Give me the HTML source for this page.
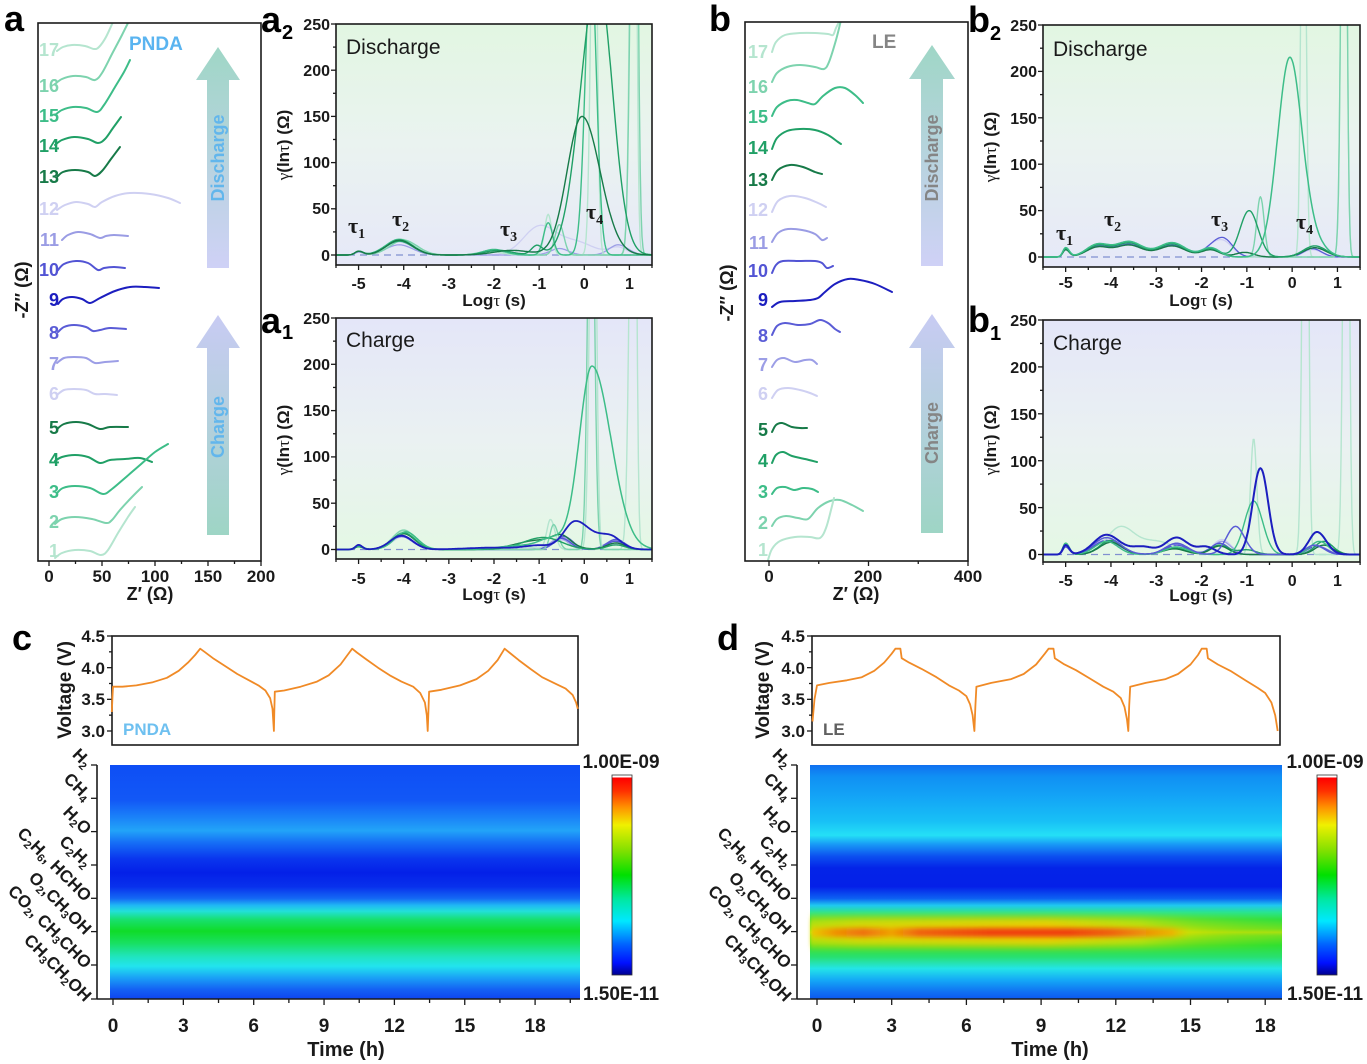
<!DOCTYPE html>
<html><head><meta charset="utf-8">
<style>
html,body{margin:0;padding:0;background:#fff;}
svg{display:block;}
text{font-family:"Liberation Sans",Arial,sans-serif;}
.b{font-weight:bold;}
</style></head><body>
<svg id="s" width="1367" height="1064" viewBox="0 0 1367 1064" xmlns="http://www.w3.org/2000/svg">
<defs>
 <linearGradient id="bgGB" x1="0" y1="0" x2="0" y2="1"><stop offset="0" stop-color="#e2f6e2"/><stop offset="0.5" stop-color="#eaf3f0"/><stop offset="1" stop-color="#e6e8f8"/></linearGradient>
 <linearGradient id="bgBG" x1="0" y1="0" x2="0" y2="1"><stop offset="0" stop-color="#e4e6f8"/><stop offset="0.5" stop-color="#eaf1f2"/><stop offset="1" stop-color="#e4f8e4"/></linearGradient>
 <linearGradient id="arDis" x1="0" y1="0" x2="0" y2="1"><stop offset="0" stop-color="#9fd6c6"/><stop offset="1" stop-color="#cfd1f6"/></linearGradient>
 <linearGradient id="arChg" x1="0" y1="0" x2="0" y2="1"><stop offset="0" stop-color="#c8cbf3"/><stop offset="1" stop-color="#9ed5c5"/></linearGradient>
 <linearGradient id="hmC" x1="0" y1="0" x2="0" y2="1">
  <stop offset="0" stop-color="#0e4ef5"/><stop offset="0.15" stop-color="#1258f6"/><stop offset="0.22" stop-color="#1a80f8"/>
  <stop offset="0.28" stop-color="#22a4f8"/><stop offset="0.33" stop-color="#1670f6"/><stop offset="0.40" stop-color="#0a36ee"/>
  <stop offset="0.46" stop-color="#0420e8"/><stop offset="0.52" stop-color="#0830ec"/><stop offset="0.57" stop-color="#1468f4"/>
  <stop offset="0.60" stop-color="#20b8f4"/><stop offset="0.625" stop-color="#22e0d8"/><stop offset="0.66" stop-color="#18e070"/>
  <stop offset="0.71" stop-color="#10dc28"/><stop offset="0.76" stop-color="#18e060"/><stop offset="0.82" stop-color="#20e4c0"/>
  <stop offset="0.86" stop-color="#22e4ee"/><stop offset="0.91" stop-color="#1aa0f6"/><stop offset="0.96" stop-color="#1460f4"/>
  <stop offset="1" stop-color="#0e44f0"/>
 </linearGradient>
 <linearGradient id="hmD" x1="0" y1="0" x2="0" y2="1">
  <stop offset="0" stop-color="#1070f0"/><stop offset="0.05" stop-color="#1090f4"/><stop offset="0.15" stop-color="#14a8f6"/>
  <stop offset="0.24" stop-color="#18c0f6"/><stop offset="0.30" stop-color="#24e0f6"/><stop offset="0.34" stop-color="#1898f6"/>
  <stop offset="0.39" stop-color="#0c50f0"/><stop offset="0.44" stop-color="#0424e8"/><stop offset="0.52" stop-color="#0420e8"/>
  <stop offset="0.57" stop-color="#0c60f2"/><stop offset="0.60" stop-color="#20c8f0"/><stop offset="0.63" stop-color="#28e490"/>
  <stop offset="0.66" stop-color="#30e040"/><stop offset="0.70" stop-color="#70e020"/><stop offset="0.715" stop-color="#a8e010"/>
  <stop offset="0.73" stop-color="#70e020"/><stop offset="0.77" stop-color="#30e030"/><stop offset="0.82" stop-color="#28e070"/>
  <stop offset="0.87" stop-color="#24e4e8"/><stop offset="0.92" stop-color="#14a8f6"/><stop offset="0.97" stop-color="#1070f2"/>
  <stop offset="1" stop-color="#0c58f0"/>
 </linearGradient>
 <linearGradient id="dBand" x1="0" y1="0" x2="1" y2="0">
  <stop offset="0" stop-color="#e0e000" stop-opacity="0.7"/><stop offset="0.1" stop-color="#e8d800" stop-opacity="0.85"/>
  <stop offset="0.5" stop-color="#f0d000" stop-opacity="0.95"/><stop offset="0.7" stop-color="#e8e000" stop-opacity="0.7"/>
  <stop offset="0.82" stop-color="#d0e000" stop-opacity="0.35"/><stop offset="0.92" stop-color="#c0e000" stop-opacity="0.15"/>
  <stop offset="1" stop-color="#c0e000" stop-opacity="0"/>
 </linearGradient>
 <linearGradient id="dCore" x1="0" y1="0" x2="1" y2="0">
  <stop offset="0" stop-color="#f0c000" stop-opacity="0.8"/><stop offset="0.05" stop-color="#f09000"/>
  <stop offset="0.11" stop-color="#f07010"/><stop offset="0.17" stop-color="#f0a000"/><stop offset="0.23" stop-color="#f06010"/>
  <stop offset="0.38" stop-color="#f04010"/><stop offset="0.55" stop-color="#f04010"/><stop offset="0.64" stop-color="#f06010"/>
  <stop offset="0.77" stop-color="#f0b000" stop-opacity="0.9"/><stop offset="0.81" stop-color="#d8e000" stop-opacity="0.4"/>
  <stop offset="0.9" stop-color="#b0e010" stop-opacity="0.1"/><stop offset="1" stop-color="#a0e010" stop-opacity="0"/>
 </linearGradient>
 <filter id="blurY" x="-0.05" y="-2" width="1.1" height="5"><feGaussianBlur stdDeviation="1.5 4"/></filter>
 <filter id="blurY2" x="-0.05" y="-2" width="1.1" height="5"><feGaussianBlur stdDeviation="1 2.5"/></filter>
 <linearGradient id="jet" x1="0" y1="1" x2="0" y2="0">
  <stop offset="0" stop-color="#000090"/><stop offset="0.06" stop-color="#0010ff"/><stop offset="0.15" stop-color="#0060ff"/>
  <stop offset="0.27" stop-color="#00e8ff"/><stop offset="0.38" stop-color="#00e8a0"/><stop offset="0.5" stop-color="#00e000"/>
  <stop offset="0.62" stop-color="#80e000"/><stop offset="0.75" stop-color="#f0f000"/><stop offset="0.84" stop-color="#ff9000"/>
  <stop offset="0.92" stop-color="#ff3000"/><stop offset="0.985" stop-color="#ff0000"/><stop offset="0.99" stop-color="#ffffff"/>
  <stop offset="1" stop-color="#ffffff"/>
 </linearGradient>
 <clipPath id="cA2"><rect x="336" y="24" width="316" height="241"/></clipPath>
 <clipPath id="cA1"><rect x="336" y="318" width="316" height="241"/></clipPath>
 <clipPath id="cB2"><rect x="1043" y="25" width="317" height="242"/></clipPath>
 <clipPath id="cB1"><rect x="1043" y="320" width="317" height="242"/></clipPath>
 <clipPath id="cNa"><rect x="38" y="23" width="223" height="538"/></clipPath>
 <clipPath id="cNb"><rect x="745" y="22" width="223" height="539"/></clipPath>
</defs>
<rect x="0" y="0" width="1367" height="1064" fill="#fff"/>

<!-- ================= Panel a (Nyquist PNDA) ================= -->
<text x="4" y="31" class="b" font-size="36">a</text>
<polygon points="207,268 207,80 196,80 218,47 240,80 229,80 229,268" fill="url(#arDis)"/>
<polygon points="207,535 207,348 196,348 218,315 240,348 229,348 229,535" fill="url(#arChg)"/>
<text transform="translate(224,158) rotate(-90)" text-anchor="middle" class="b" font-size="18" fill="#62b6ec">Discharge</text>
<text transform="translate(224,427) rotate(-90)" text-anchor="middle" class="b" font-size="18" fill="#62b6ec">Charge</text>
<text x="129" y="50" class="b" font-size="19" fill="#5ab4f0">PNDA</text>
<g id="nyqA" clip-path="url(#cNa)"></g>
<rect x="38" y="23" width="223" height="538" fill="none" stroke="#1a1a1a" stroke-width="1.6"/>
<g class="b" font-size="18" text-anchor="end">
 <text x="59" y="56" fill="#b5e5cf">17</text>
 <text x="59" y="92" fill="#7dd3ae">16</text>
 <text x="59" y="122" fill="#3dbd88">15</text>
 <text x="59" y="152" fill="#20a066">14</text>
 <text x="59" y="183" fill="#177a48">13</text>
 <text x="59" y="215" fill="#cfd0f2">12</text>
 <text x="59" y="246" fill="#9a9ce4">11</text>
 <text x="59" y="276" fill="#5254d4">10</text>
 <text x="59" y="306" fill="#1c1ebf">9</text>
 <text x="59" y="339" fill="#5a5cd6">8</text>
 <text x="59" y="370" fill="#9c9ee6">7</text>
 <text x="59" y="400" fill="#cfd0f2">6</text>
 <text x="59" y="434" fill="#177a48">5</text>
 <text x="59" y="466" fill="#20a066">4</text>
 <text x="59" y="498" fill="#3dbd88">3</text>
 <text x="59" y="528" fill="#7dd3ae">2</text>
 <text x="59" y="557" fill="#b5e5cf">1</text>
</g>
<g class="b" font-size="17" text-anchor="middle" fill="#1a1a1a">
 <text x="49" y="582">0</text><text x="102" y="582">50</text><text x="155" y="582">100</text><text x="208" y="582">150</text><text x="261" y="582">200</text>
 <text x="150" y="600" font-size="18">Z′ (Ω)</text>
 <text transform="translate(28,290) rotate(-90)" font-size="18">-Z″ (Ω)</text>
</g>

<!-- ================= Panel b (Nyquist LE) ================= -->
<text x="709" y="31" class="b" font-size="36">b</text>
<polygon points="921,266 921,79 909,79 932,45 955,79 943,79 943,266" fill="url(#arDis)"/>
<polygon points="921,533 921,348 909,348 932,314 955,348 943,348 943,533" fill="url(#arChg)"/>
<text transform="translate(938,158) rotate(-90)" text-anchor="middle" class="b" font-size="18" fill="#858585">Discharge</text>
<text transform="translate(938,433) rotate(-90)" text-anchor="middle" class="b" font-size="18" fill="#858585">Charge</text>
<text x="872" y="48" class="b" font-size="19" fill="#858585">LE</text>
<g id="nyqB" clip-path="url(#cNb)"></g>
<rect x="745" y="22" width="223" height="539" fill="none" stroke="#1a1a1a" stroke-width="1.6"/>
<g class="b" font-size="18" text-anchor="end">
 <text x="768" y="58" fill="#b5e5cf">17</text>
 <text x="768" y="93" fill="#7dd3ae">16</text>
 <text x="768" y="123" fill="#3dbd88">15</text>
 <text x="768" y="154" fill="#20a066">14</text>
 <text x="768" y="186" fill="#177a48">13</text>
 <text x="768" y="216" fill="#cfd0f2">12</text>
 <text x="768" y="249" fill="#9a9ce4">11</text>
 <text x="768" y="277" fill="#5254d4">10</text>
 <text x="768" y="306" fill="#1c1ebf">9</text>
 <text x="768" y="342" fill="#5a5cd6">8</text>
 <text x="768" y="371" fill="#9c9ee6">7</text>
 <text x="768" y="400" fill="#cfd0f2">6</text>
 <text x="768" y="436" fill="#177a48">5</text>
 <text x="768" y="467" fill="#20a066">4</text>
 <text x="768" y="498" fill="#3dbd88">3</text>
 <text x="768" y="529" fill="#7dd3ae">2</text>
 <text x="768" y="556" fill="#b5e5cf">1</text>
</g>
<g class="b" font-size="17" text-anchor="middle" fill="#1a1a1a">
 <text x="769" y="582">0</text><text x="868" y="582">200</text><text x="968" y="582">400</text>
 <text x="856" y="600" font-size="18">Z′ (Ω)</text>
 <text transform="translate(733,293) rotate(-90)" font-size="18">-Z″ (Ω)</text>
</g>

<!-- ================= DRT panels ================= -->
<rect x="336" y="24" width="316" height="241" fill="url(#bgGB)"/>
<rect x="336" y="318" width="316" height="241" fill="url(#bgBG)"/>
<rect x="1043" y="25" width="317" height="242" fill="url(#bgGB)"/>
<rect x="1043" y="320" width="317" height="242" fill="url(#bgBG)"/>
<g stroke="#8090d0" stroke-width="1.2" stroke-dasharray="7,5">
 <line x1="336" y1="255" x2="652" y2="255"/><line x1="336" y1="549.5" x2="652" y2="549.5"/>
 <line x1="1043" y1="257" x2="1360" y2="257"/><line x1="1043" y1="554.5" x2="1360" y2="554.5"/>
</g>
<g id="dA2" clip-path="url(#cA2)"></g>
<g id="dA1" clip-path="url(#cA1)"></g>
<g id="dB2" clip-path="url(#cB2)"></g>
<g id="dB1" clip-path="url(#cB1)"></g>
<g fill="none" stroke="#1a1a1a" stroke-width="1.6">
 <rect x="336" y="24" width="316" height="241"/><rect x="336" y="318" width="316" height="241"/>
 <rect x="1043" y="25" width="317" height="242"/><rect x="1043" y="320" width="317" height="242"/>
</g>
<g id="ticks"></g>

<!-- a2 -->
<text x="261" y="32" class="b" font-size="36">a</text><text x="282" y="39" class="b" font-size="20">2</text>
<text x="346" y="54" font-size="21" fill="#1a1a1a">Discharge</text>
<g class="b" font-size="16" text-anchor="end" fill="#1a1a1a">
 <text x="330" y="30">250</text><text x="330" y="76">200</text><text x="330" y="122">150</text><text x="330" y="168">100</text><text x="330" y="214">50</text><text x="330" y="261">0</text>
</g>
<g class="b" font-size="16" text-anchor="middle" fill="#1a1a1a">
 <text x="358.6" y="289">-5</text><text x="403.7" y="289">-4</text><text x="448.9" y="289">-3</text><text x="494" y="289">-2</text><text x="539.2" y="289">-1</text><text x="584.3" y="289">0</text><text x="629.4" y="289">1</text>
 <text x="494" y="306" font-size="17">Log<tspan font-weight="normal" font-family="Liberation Serif">τ</tspan> (s)</text>
 <text transform="translate(289,145) rotate(-90)" font-size="17"><tspan font-weight="normal" font-family="Liberation Serif">γ</tspan>(ln<tspan font-weight="normal" font-family="Liberation Serif">τ</tspan>) (Ω)</text>
</g>
<g class="b" fill="#1a1a1a">
 <text x="348" y="233" font-size="22" style="font-family:'Liberation Serif',serif">τ<tspan font-size="14" dy="5">1</tspan></text>
 <text x="392" y="226" font-size="22" style="font-family:'Liberation Serif',serif">τ<tspan font-size="14" dy="5">2</tspan></text>
 <text x="500" y="236" font-size="22" style="font-family:'Liberation Serif',serif">τ<tspan font-size="14" dy="5">3</tspan></text>
 <text x="586" y="219" font-size="22" style="font-family:'Liberation Serif',serif">τ<tspan font-size="14" dy="5">4</tspan></text>
</g>

<!-- a1 -->
<text x="261" y="333" class="b" font-size="36">a</text><text x="282" y="339" class="b" font-size="20">1</text>
<text x="346" y="347" font-size="21" fill="#1a1a1a">Charge</text>
<g class="b" font-size="16" text-anchor="end" fill="#1a1a1a">
 <text x="330" y="324">250</text><text x="330" y="370">200</text><text x="330" y="416">150</text><text x="330" y="462">100</text><text x="330" y="509">50</text><text x="330" y="555">0</text>
</g>
<g class="b" font-size="16" text-anchor="middle" fill="#1a1a1a">
 <text x="358.6" y="584">-5</text><text x="403.7" y="584">-4</text><text x="448.9" y="584">-3</text><text x="494" y="584">-2</text><text x="539.2" y="584">-1</text><text x="584.3" y="584">0</text><text x="629.4" y="584">1</text>
 <text x="494" y="600" font-size="17">Log<tspan font-weight="normal" font-family="Liberation Serif">τ</tspan> (s)</text>
 <text transform="translate(289,440) rotate(-90)" font-size="17"><tspan font-weight="normal" font-family="Liberation Serif">γ</tspan>(ln<tspan font-weight="normal" font-family="Liberation Serif">τ</tspan>) (Ω)</text>
</g>

<!-- b2 -->
<text x="968" y="32" class="b" font-size="36">b</text><text x="990" y="40" class="b" font-size="20">2</text>
<text x="1053" y="56" font-size="21" fill="#1a1a1a">Discharge</text>
<g class="b" font-size="16" text-anchor="end" fill="#1a1a1a">
 <text x="1037" y="31">250</text><text x="1037" y="77">200</text><text x="1037" y="124">150</text><text x="1037" y="170">100</text><text x="1037" y="216">50</text><text x="1037" y="263">0</text>
</g>
<g class="b" font-size="16" text-anchor="middle" fill="#1a1a1a">
 <text x="1065.7" y="288">-5</text><text x="1111" y="288">-4</text><text x="1156.3" y="288">-3</text><text x="1201.6" y="288">-2</text><text x="1246.9" y="288">-1</text><text x="1292.2" y="288">0</text><text x="1337.5" y="288">1</text>
 <text x="1201" y="306" font-size="17">Log<tspan font-weight="normal" font-family="Liberation Serif">τ</tspan> (s)</text>
 <text transform="translate(996,147) rotate(-90)" font-size="17"><tspan font-weight="normal" font-family="Liberation Serif">γ</tspan>(ln<tspan font-weight="normal" font-family="Liberation Serif">τ</tspan>) (Ω)</text>
</g>
<g class="b" fill="#1a1a1a">
 <text x="1056" y="240" font-size="22" style="font-family:'Liberation Serif',serif">τ<tspan font-size="14" dy="5">1</tspan></text>
 <text x="1104" y="226" font-size="22" style="font-family:'Liberation Serif',serif">τ<tspan font-size="14" dy="5">2</tspan></text>
 <text x="1211" y="226" font-size="22" style="font-family:'Liberation Serif',serif">τ<tspan font-size="14" dy="5">3</tspan></text>
 <text x="1296" y="229" font-size="22" style="font-family:'Liberation Serif',serif">τ<tspan font-size="14" dy="5">4</tspan></text>
</g>

<!-- b1 -->
<text x="968" y="332" class="b" font-size="36">b</text><text x="990" y="340" class="b" font-size="20">1</text>
<text x="1053" y="350" font-size="21" fill="#1a1a1a">Charge</text>
<g class="b" font-size="16" text-anchor="end" fill="#1a1a1a">
 <text x="1037" y="326">250</text><text x="1037" y="373">200</text><text x="1037" y="420">150</text><text x="1037" y="467">100</text><text x="1037" y="514">50</text><text x="1037" y="560">0</text>
</g>
<g class="b" font-size="16" text-anchor="middle" fill="#1a1a1a">
 <text x="1065.7" y="586">-5</text><text x="1111" y="586">-4</text><text x="1156.3" y="586">-3</text><text x="1201.6" y="586">-2</text><text x="1246.9" y="586">-1</text><text x="1292.2" y="586">0</text><text x="1337.5" y="586">1</text>
 <text x="1201" y="601" font-size="17">Log<tspan font-weight="normal" font-family="Liberation Serif">τ</tspan> (s)</text>
 <text transform="translate(996,440) rotate(-90)" font-size="17"><tspan font-weight="normal" font-family="Liberation Serif">γ</tspan>(ln<tspan font-weight="normal" font-family="Liberation Serif">τ</tspan>) (Ω)</text>
</g>

<!-- ================= Panel c ================= -->
<text x="12" y="650" class="b" font-size="36">c</text>
<rect x="112" y="636" width="466" height="109" fill="#fff" stroke="#1a1a1a" stroke-width="1.6"/>
<polyline id="vC" fill="none" stroke="#f08a26" stroke-width="1.8" stroke-linejoin="round"/>
<text x="123" y="735" class="b" font-size="17" fill="#6ec0f0">PNDA</text>
<g class="b" font-size="17" text-anchor="end" fill="#1a1a1a">
 <text x="105" y="642">4.5</text><text x="105" y="674">4.0</text><text x="105" y="705">3.5</text><text x="105" y="737">3.0</text>
</g>
<text transform="translate(71,690) rotate(-90)" text-anchor="middle" class="b" font-size="19" fill="#1a1a1a">Voltage (V)</text>
<rect x="110" y="765" width="470" height="234" fill="url(#hmC)"/>
<rect x="612" y="775" width="20" height="200" fill="url(#jet)" stroke="#333" stroke-width="0.8"/>
<g class="b" font-size="19" text-anchor="middle" fill="#1a1a1a">
 <text x="621" y="768">1.00E-09</text><text x="621" y="1000">1.50E-11</text>
</g>
<g stroke="#1a1a1a" stroke-width="1.6"><line x1="97" y1="765" x2="97" y2="999"/><line x1="97" y1="999" x2="580" y2="999"/></g>
<g class="b" font-size="19" text-anchor="middle" fill="#1a1a1a">
 <text x="113" y="1032">0</text><text x="183.4" y="1032">3</text><text x="253.7" y="1032">6</text><text x="324" y="1032">9</text><text x="394.4" y="1032">12</text><text x="464.8" y="1032">15</text><text x="535.1" y="1032">18</text>
 <text x="346" y="1056" font-size="20">Time (h)</text>
</g>
<g class="b" font-size="17" fill="#1a1a1a" text-anchor="end">
 <text transform="translate(88,765) rotate(45)" y="5">H<tspan font-size="11" dy="3">2</tspan></text>
 <text transform="translate(88,798) rotate(45)" y="5">CH<tspan font-size="11" dy="3">4</tspan></text>
 <text transform="translate(88,832) rotate(45)" y="5">H<tspan font-size="11" dy="3">2</tspan><tspan dy="-3">O</tspan></text>
 <text transform="translate(88,865) rotate(45)" y="5">C<tspan font-size="11" dy="3">2</tspan><tspan dy="-3">H</tspan><tspan font-size="11" dy="3">2</tspan></text>
 <text transform="translate(88,899) rotate(45)" y="5">C<tspan font-size="11" dy="3">2</tspan><tspan dy="-3">H</tspan><tspan font-size="11" dy="3">6</tspan><tspan dy="-3">, HCHO</tspan></text>
 <text transform="translate(88,932) rotate(45)" y="5">O<tspan font-size="11" dy="3">2</tspan><tspan dy="-3">,CH</tspan><tspan font-size="11" dy="3">3</tspan><tspan dy="-3">OH</tspan></text>
 <text transform="translate(88,966) rotate(45)" y="5">CO<tspan font-size="11" dy="3">2</tspan><tspan dy="-3">, CH</tspan><tspan font-size="11" dy="3">3</tspan><tspan dy="-3">CHO</tspan></text>
 <text transform="translate(88,999) rotate(45)" y="5">CH<tspan font-size="11" dy="3">3</tspan><tspan dy="-3">CH</tspan><tspan font-size="11" dy="3">2</tspan><tspan dy="-3">OH</tspan></text>
</g>

<!-- ================= Panel d ================= -->
<text x="717" y="650" class="b" font-size="36">d</text>
<rect x="812" y="636" width="468" height="109" fill="#fff" stroke="#1a1a1a" stroke-width="1.6"/>
<polyline id="vD" fill="none" stroke="#f08a26" stroke-width="1.8" stroke-linejoin="round"/>
<text x="823" y="735" class="b" font-size="17" fill="#606060">LE</text>
<g class="b" font-size="17" text-anchor="end" fill="#1a1a1a">
 <text x="805" y="642">4.5</text><text x="805" y="674">4.0</text><text x="805" y="705">3.5</text><text x="805" y="737">3.0</text>
</g>
<text transform="translate(769,690) rotate(-90)" text-anchor="middle" class="b" font-size="19" fill="#1a1a1a">Voltage (V)</text>
<rect x="810" y="765" width="472" height="234" fill="url(#hmD)"/>
<rect x="810" y="917" width="472" height="30" fill="url(#dBand)" filter="url(#blurY)"/>
<rect x="812" y="928" width="468" height="9" fill="url(#dCore)" filter="url(#blurY2)"/>
<rect x="1317" y="775" width="20" height="200" fill="url(#jet)" stroke="#333" stroke-width="0.8"/>
<g class="b" font-size="19" text-anchor="middle" fill="#1a1a1a">
 <text x="1325" y="768">1.00E-09</text><text x="1325" y="1000">1.50E-11</text>
</g>
<g stroke="#1a1a1a" stroke-width="1.6"><line x1="797" y1="765" x2="797" y2="999"/><line x1="797" y1="999" x2="1282" y2="999"/></g>
<g class="b" font-size="19" text-anchor="middle" fill="#1a1a1a">
 <text x="817" y="1032">0</text><text x="891.7" y="1032">3</text><text x="966.4" y="1032">6</text><text x="1041" y="1032">9</text><text x="1115.8" y="1032">12</text><text x="1190.5" y="1032">15</text><text x="1265.2" y="1032">18</text>
 <text x="1050" y="1056" font-size="20">Time (h)</text>
</g>
<g class="b" font-size="17" fill="#1a1a1a" text-anchor="end">
 <text transform="translate(788,765) rotate(45)" y="5">H<tspan font-size="11" dy="3">2</tspan></text>
 <text transform="translate(788,798) rotate(45)" y="5">CH<tspan font-size="11" dy="3">4</tspan></text>
 <text transform="translate(788,832) rotate(45)" y="5">H<tspan font-size="11" dy="3">2</tspan><tspan dy="-3">O</tspan></text>
 <text transform="translate(788,865) rotate(45)" y="5">C<tspan font-size="11" dy="3">2</tspan><tspan dy="-3">H</tspan><tspan font-size="11" dy="3">2</tspan></text>
 <text transform="translate(788,899) rotate(45)" y="5">C<tspan font-size="11" dy="3">2</tspan><tspan dy="-3">H</tspan><tspan font-size="11" dy="3">6</tspan><tspan dy="-3">, HCHO</tspan></text>
 <text transform="translate(788,932) rotate(45)" y="5">O<tspan font-size="11" dy="3">2</tspan><tspan dy="-3">,CH</tspan><tspan font-size="11" dy="3">3</tspan><tspan dy="-3">OH</tspan></text>
 <text transform="translate(788,966) rotate(45)" y="5">CO<tspan font-size="11" dy="3">2</tspan><tspan dy="-3">, CH</tspan><tspan font-size="11" dy="3">3</tspan><tspan dy="-3">CHO</tspan></text>
 <text transform="translate(788,999) rotate(45)" y="5">CH<tspan font-size="11" dy="3">3</tspan><tspan dy="-3">CH</tspan><tspan font-size="11" dy="3">2</tspan><tspan dy="-3">OH</tspan></text>
</g>
</svg>
<script>
(function(){
var NS="http://www.w3.org/2000/svg";
function el(p,t,a){var e=document.createElementNS(NS,t);for(var k in a)e.setAttribute(k,a[k]);p.appendChild(e);return e;}
function cr(pts){
 var d="M"+pts[0][0]+","+pts[0][1];
 for(var i=0;i<pts.length-1;i++){
  var p0=pts[i-1]||pts[i],p1=pts[i],p2=pts[i+1],p3=pts[i+2]||p2;
  var c1x=p1[0]+(p2[0]-p0[0])/6,c1y=p1[1]+(p2[1]-p0[1])/6;
  var c2x=p2[0]-(p3[0]-p1[0])/6,c2y=p2[1]-(p3[1]-p1[1])/6;
  d+="C"+c1x.toFixed(1)+","+c1y.toFixed(1)+" "+c2x.toFixed(1)+","+c2y.toFixed(1)+" "+p2[0]+","+p2[1];
 }
 return d;
}
var G1="#b5e5cf",G2="#7dd3ae",G3="#3dbd88",G4="#20a066",G5="#177a48",
    P6="#cfd0f2",P7="#9c9ee6",P8="#5a5cd6",P9="#1c1ebf",P10="#5254d4",P11="#9a9ce4",P12="#cfd0f2";

var NA=[
[G1,[[57,51],[63,47],[72,45],[85,46],[94,49],[99,47],[106,37],[113,22]]],
[G2,[[55,84],[62,79],[73,76],[86,77],[95,80],[102,73],[112,54],[122,35],[129,21]]],
[G3,[[55,115],[62,110],[73,107],[86,108],[97,112],[104,105],[115,87],[124,72],[130,60]]],
[G4,[[55,145],[62,140],[74,137],[88,139],[98,143],[105,139],[113,128],[121,117]]],
[G5,[[57,177],[63,172],[75,170],[88,172],[95,176],[102,171],[111,159],[120,147]]],
[P12,[[57,210],[65,205],[76,202],[88,204],[95,207],[102,202],[115,196],[130,193],[150,194],[168,198],[180,203]]],
[P11,[[62,240],[68,235],[78,232],[90,234],[100,238],[106,236],[114,235],[128,236]]],
[P10,[[58,270],[64,264],[76,261],[88,263],[98,270],[104,268],[114,267],[125,268]]],
[P9,[[58,304],[63,299],[72,297],[82,299],[90,303],[100,298],[115,291],[130,287],[145,287],[159,288]]],
[P8,[[58,332],[64,327],[74,325],[86,327],[93,331],[100,330],[110,328],[126,329]]],
[P7,[[57,363],[64,358],[74,357],[86,358],[95,363],[105,362],[118,361]]],
[P6,[[57,395],[64,390],[74,389],[86,390],[95,394],[105,394],[117,395]]],
[G5,[[57,429],[64,424],[76,422],[88,424],[100,429],[110,427],[128,427]]],
[G4,[[55,461],[62,457],[75,455],[88,457],[100,463],[110,460],[125,459],[140,458],[152,462]]],
[G3,[[57,493],[63,488],[75,486],[90,488],[103,494],[112,489],[125,478],[140,465],[155,452],[168,444]]],
[G2,[[55,524],[62,519],[75,517],[92,519],[106,523],[112,520],[120,510],[132,497],[142,487]]],
[G1,[[55,558],[62,553],[75,550],[90,551],[101,555],[108,550],[118,533],[128,517],[135,507]]]
];
var gA=document.getElementById("nyqA");
NA.forEach(function(c){el(gA,"path",{d:cr(c[1]),fill:"none",stroke:c[0],"stroke-width":2,"stroke-linecap":"round"});});

var NB=[
[G1,[[772,52],[776,42],[785,35],[800,33],[815,33],[828,34],[833,35],[836,28],[840,20]]],
[G2,[[772,82],[777,73],[787,67],[800,65],[815,67],[824,69],[829,62],[836,40],[841,20]]],
[G3,[[772,116],[777,107],[787,101],[797,100],[808,103],[815,104],[823,96],[835,88],[845,88],[855,95],[863,103]]],
[G4,[[772,149],[777,138],[787,131],[800,129],[815,130],[828,135],[838,142],[841,144]]],
[G5,[[772,180],[778,170],[790,165],[803,167],[815,172],[822,174]]],
[P12,[[772,212],[778,201],[790,196],[805,198],[818,203],[826,207]]],
[P11,[[772,242],[778,233],[788,229],[802,230],[815,234],[822,240],[827,238]]],
[P10,[[772,273],[776,265],[783,261],[800,261],[815,261],[822,263],[827,268],[833,266]]],
[P9,[[772,307],[780,302],[795,301],[810,300],[818,298],[825,292],[835,284],[848,279],[860,280],[875,284],[892,292]]],
[P8,[[772,335],[777,326],[785,323],[798,325],[810,324],[820,320],[828,323],[835,329],[840,332]]],
[P7,[[772,367],[777,360],[784,358],[795,362],[805,360],[812,360],[817,364]]],
[P6,[[772,398],[778,390],[788,388],[800,390],[810,393],[817,396]]],
[G5,[[772,432],[776,425],[782,423],[792,427],[800,428],[807,428]]],
[G4,[[772,463],[776,455],[783,452],[792,456],[805,459],[817,462]]],
[G3,[[772,494],[777,488],[785,487],[794,490],[803,488],[812,489],[818,492]]],
[G2,[[772,526],[777,519],[786,516],[798,518],[808,519],[818,508],[830,501],[840,500],[852,505],[863,511]]],
[G1,[[768,560],[772,549],[780,541],[795,537],[810,537],[820,538],[826,528],[831,510],[834,498]]]
];
var gB=document.getElementById("nyqB");
NB.forEach(function(c){el(gB,"path",{d:cr(c[1]),fill:"none",stroke:c[0],"stroke-width":2,"stroke-linecap":"round"});});

function drt(id,X0,Y0,kx,ky,curves){
 var g=document.getElementById(id);
 curves.forEach(function(c){
  var d="";
  for(var x=-5.5;x<=1.5001;x+=0.02){
   var y=0;
   c[2].forEach(function(p){var m=p[0],A=p[1],sl=p[2]||0.25,sr=p[3]||sl;var s=x<m?sl:sr;y+=A*Math.exp(-(x-m)*(x-m)/(2*s*s));});
   var px=X0+(x+5.5)*kx,py=Math.max(Y0-y*ky,-50);
   d+=(d?"L":"M")+px.toFixed(1)+","+py.toFixed(1);
  }
  el(g,"path",{d:d,fill:"none",stroke:c[0],"stroke-width":c[1],"stroke-linejoin":"round"});
 });
}
var t1=[-5,4,0.08,0.1];
drt("dA2",336,255,45.14,0.924,[
 [P12,1.3,[[-5,3,.08,.1],[-4.1,14,.3,.3],[-1.0,30,.35,.35],[-0.2,14,.4,.4],[0.75,8,.2,.2]]],
 [P7,1.3,[[-5,3,.08,.1],[-4.1,11,.3,.3],[-0.55,7,.2,.2],[0.75,11,.2,.22]]],
 [G1,1.4,[t1,[-4.05,17,.3,.3],[-2.1,4,.25,.25],[-0.8,44,.08,.08],[0.22,500,.07,.06],[1.1,800,.07,.05]]],
 [G2,1.4,[t1,[-4.0,16,.3,.3],[-2,5,.25,.25],[-0.55,33,.1,.1],[1.12,700,.08,.06]]],
 [G3,1.4,[t1,[-4.1,17,.3,.3],[-2,6,.25,.25],[-0.8,35,.1,.1],[0.15,320,.13,.12]]],
 [G4,1.4,[t1,[-4.1,15,.3,.3],[-1.9,5,.3,.3],[-1.05,10,.12,.12],[0.3,300,.38,.32]]],
 [G5,1.4,[t1,[-4.1,16,.28,.3],[-1.6,5,.4,.4],[-0.05,150,.33,.4]]]
]);
drt("dA1",336,549.5,45.14,0.926,[
 [P6,1.3,[[-5,3,.08,.1],[-4,14,.25,.25],[-0.5,10,.25,.25],[0.7,6,.2,.2]]],
 [P7,1.3,[[-5,3,.08,.1],[-4.05,14,.25,.25],[-0.5,13,.22,.22],[0.7,10,.2,.2]]],
 [P11,1.3,[[-5,3,.08,.1],[-4.05,14,.25,.25],[-0.55,12,.2,.2],[0.65,9,.2,.2]]],
 [P10,1.3,[[-5,3,.08,.1],[-4.05,14,.25,.25],[-0.5,12,.2,.2],[0.7,9,.2,.2]]],
 [P8,1.3,[[-5,3,.08,.1],[-4.05,15,.25,.25],[-0.45,14,.2,.2],[0.7,11,.2,.2]]],
 [G1,1.4,[t1,[-4,20,.25,.25],[-1.5,3,.4,.4],[-0.75,32,.08,.1],[0.2,600,.07,.06],[1.1,700,.08,.05]]],
 [G2,1.4,[t1,[-4,21,.25,.25],[-0.68,27,.08,.1],[0.15,500,.07,.07]]],
 [G5,1.4,[[-5,3,.08,.1],[-4,17,.25,.25],[-1.0,10,.5,.5],[-0.5,10,.2,.2],[0.7,7,.2,.2]]],
 [G4,1.4,[[-5,3,.08,.1],[-4,18,.25,.25],[-0.9,13,.45,.4],[0.7,5,.2,.2]]],
 [G3,1.5,[t1,[-3.95,19,.25,.25],[-1.5,4,.4,.4],[-0.7,12,.3,.3],[0.17,198,.28,.42]]],
 [P9,1.8,[[-5,5,.07,.08],[-4.05,15,.25,.25],[-2,2,.6,.6],[-1,4,.3,.3],[-0.2,30,.25,.3],[0.55,15,.3,.25]]]
]);
function wig(a){return [[-5,9*a,.06,.08],[-4.3,12*a,.25,.25],[-3.6,15*a,.3,.3],[-2.65,14*a,.3,.3],[-1.8,9*a,.2,.2]];}
drt("dB2",1043,257,45.3,0.928,[
 [P12,1.3,wig(1).concat([[-1.5,15,.2,.2],[0.45,8,.2,.2]])],
 [P8,1.3,wig(0.9).concat([[-1.5,18,.2,.2],[0.45,9,.2,.2]])],
 [G1,1.4,wig(1.1).concat([[0.25,600,.05,.05],[1.15,700,.06,.05]])],
 [G2,1.4,wig(1.05).concat([[-0.7,65,.08,.08],[1.15,700,.06,.05]])],
 [G5,1.4,wig(0.85).concat([[-1.05,5,.2,.2],[0.5,10,.25,.25]])],
 [G4,1.4,wig(1.0).concat([[-0.95,50,.2,.2],[0.5,12,.25,.25]])],
 [G3,1.5,wig(1.1).concat([[-0.05,215,.27,.27],[0.5,13,.2,.25]])]
]);
drt("dB1",1043,554.5,45.3,0.938,[
 [P6,1.3,[[-5,8,.06,.08],[-4.1,16,.28,.3],[-2.55,12,.25,.25],[-1.55,16,.2,.2],[0.55,10,.2,.2]]],
 [P11,1.3,[[-5,8,.06,.08],[-4.1,14,.28,.3],[-2.55,11,.25,.25],[-1.55,14,.2,.2],[0.6,8,.2,.2]]],
 [P10,1.3,[[-5,8,.06,.08],[-4.1,15,.28,.3],[-2.55,10,.25,.25],[-1.6,12,.2,.2],[0.55,9,.2,.2]]],
 [G1,1.4,[[-5,12,.06,.08],[-3.8,28,.3,.3],[-3,14,.4,.4],[-0.85,124,.07,.07],[0.3,800,.06,.05],[1.2,800,.06,.05]]],
 [G4,1.4,[[-5,12,.06,.08],[-4,15,.25,.25],[-2.6,7,.25,.25],[-1.6,10,.2,.2],[-1.0,5,.2,.2],[0.7,14,.2,.2]]],
 [G5,1.4,[[-5,12,.06,.08],[-4,13,.25,.25],[-2.6,6,.25,.25],[-1.6,9,.2,.2],[0.7,10,.2,.2]]],
 [G3,1.4,[[-5,12,.06,.08],[-4.1,14,.25,.25],[-2.55,8,.25,.25],[-0.85,57,.2,.2],[0.6,14,.2,.2]]],
 [P8,1.5,[[-5,9,.06,.08],[-4.1,18,.28,.3],[-2.55,12,.25,.25],[-1.25,30,.2,.2],[0.5,10,.2,.2]]],
 [P9,2.0,[[-5,10,.06,.08],[-4.1,21,.28,.3],[-3.3,8,.25,.25],[-2.55,18,.25,.25],[-1.9,8,.2,.2],[-0.7,92,.17,.17],[0.55,24,.18,.2]]]
]);

var gt=document.getElementById("ticks");
function ln(x1,y1,x2,y2){el(gt,"line",{x1:x1,y1:y1,x2:x2,y2:y2,stroke:"#1a1a1a","stroke-width":1.3});}
function drtTicks(X0,kx,yb,Y0,ky,x0){
 for(var v=-5;v<=1;v++){var x=X0+(v+5.5)*kx;ln(x,yb,x,yb+5);}
 for(var v=-5.5;v<=1.5;v+=1){var x=X0+(v+5.5)*kx;ln(x,yb,x,yb+3);}
 for(var g=0;g<=250;g+=25){var y=Y0-g*ky;ln(x0,y,x0-(g%50==0?5:3),y);}
}
drtTicks(336,45.14,265,255,0.924,336);
drtTicks(336,45.14,559,549.5,0.926,336);
drtTicks(1043,45.3,267,257,0.928,1043);
drtTicks(1043,45.3,562,554.5,0.938,1043);
for(var v=0;v<=200;v+=25){var x=49+v*1.06;ln(x,561,x,561+(v%50==0?5:3));}
for(var v=0;v<=400;v+=100){var x=769+v*0.4975;ln(x,561,x,561+(v%200==0?5:3));}
[112,812].forEach(function(x0){for(var V=3.0;V<=4.51;V+=0.25){var y=636+(4.5-V)*63.33;ln(x0,y,x0-(Math.abs(V*2-Math.round(V*2))<0.01?5:3),y);}});
for(var t=0;t<=19.6;t+=1.5){var x=113+t*23.45;ln(x,999,x,999+(t%3==0?6:4));}
for(var t=0;t<=18.6;t+=1.5){var x=817+t*24.9;ln(x,999,x,999+(t%3==0?6:4));}
[765,798.3,831.6,865,898.3,931.6,965,999].forEach(function(y){ln(91,y,97,y);ln(791,y,797,y);});

function vpl(id,x0,kx,pts){
 var s=pts.map(function(p){return (x0+p[0]*kx).toFixed(1)+","+(636+(4.5-p[1])*63.33).toFixed(1);}).join(" ");
 document.getElementById(id).setAttribute("points",s);
}
vpl("vC",113,23.45,[[-0.05,3.3],[-0.02,3.55],[0,3.7],[0.4,3.7],[1,3.72],[1.7,3.77],[2.3,3.84],[2.8,3.95],[3.2,4.08],[3.5,4.2],[3.72,4.3],[3.9,4.25],[4.3,4.14],[4.8,4.02],[5.3,3.9],[5.8,3.8],[6.2,3.72],[6.5,3.64],[6.7,3.52],[6.8,3.35],[6.86,3.0],[6.88,3.3],[6.9,3.62],[7.3,3.64],[8,3.7],[8.7,3.78],[9.2,3.88],[9.7,4.05],[10.0,4.2],[10.2,4.3],[10.4,4.24],[10.8,4.13],[11.3,4.0],[11.8,3.88],[12.3,3.78],[12.8,3.7],[13.1,3.6],[13.3,3.45],[13.38,3.25],[13.42,3.0],[13.45,3.3],[13.48,3.62],[14,3.65],[14.8,3.72],[15.5,3.82],[16,3.95],[16.4,4.12],[16.7,4.3],[16.9,4.24],[17.3,4.12],[17.8,3.98],[18.3,3.85],[18.9,3.74],[19.3,3.67],[19.6,3.57],[19.75,3.45],[19.82,3.35]]);
vpl("vD",817,24.9,[[-0.18,3.15],[-0.1,3.5],[0,3.72],[0.5,3.76],[1.2,3.8],[1.8,3.85],[2.3,3.95],[2.7,4.08],[3.0,4.22],[3.15,4.3],[3.35,4.3],[3.4,4.15],[3.7,4.08],[4.2,3.98],[4.8,3.85],[5.3,3.72],[5.7,3.64],[6.0,3.55],[6.15,3.42],[6.25,3.25],[6.32,3.0],[6.36,3.4],[6.4,3.7],[7,3.76],[7.8,3.82],[8.3,3.9],[8.8,4.05],[9.15,4.22],[9.3,4.3],[9.5,4.3],[9.55,4.15],[9.9,4.06],[10.4,3.96],[11,3.82],[11.5,3.7],[11.9,3.62],[12.2,3.52],[12.35,3.38],[12.45,3.18],[12.5,3.0],[12.54,3.4],[12.58,3.7],[13.2,3.76],[14,3.82],[14.5,3.9],[15,4.05],[15.3,4.2],[15.45,4.3],[15.65,4.3],[15.7,4.15],[16.1,4.05],[16.6,3.95],[17.2,3.8],[17.7,3.68],[18.0,3.6],[18.25,3.45],[18.4,3.25],[18.5,3.0]]);
})();
</script>
</body></html>
